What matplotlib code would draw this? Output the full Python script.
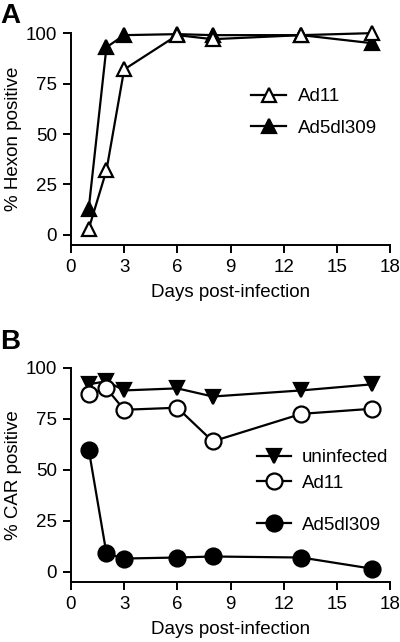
import matplotlib
matplotlib.use("Agg")
import matplotlib.pyplot as plt

plt.rcParams['font.family'] = ['Liberation Sans', 'DejaVu Sans']

days = [1, 2, 3, 6, 8, 13, 17]

# panel A: % Hexon positive
hexon_ad11 = [3, 32, 82, 99, 97, 99, 100]
hexon_ad5 = [13, 93, 99, 99.5, 99, 99, 95]

# panel B: % CAR positive
car_uninf = [92, 93.5, 89, 90, 86, 89, 92]
car_ad11 = [87, 90, 79.5, 80.5, 64, 77.5, 80]
car_ad5 = [60, 9, 6.5, 7, 7.5, 7, 1.5]

xticks = [0, 3, 6, 9, 12, 15, 18]
yticks = [0, 25, 50, 75, 100]

fig = plt.figure(figsize=(4, 6.42), dpi=100)
axA = fig.add_axes([0.1775, 0.6184, 0.7975, 0.330])
axB = fig.add_axes([0.1775, 0.0935, 0.7975, 0.3333])

lw = 1.6
mew = 1.6
fs = 13.5


def style(ax, ylabel):
    ax.set_xlim(0, 18)
    ax.set_ylim(-5, 100)
    ax.set_xticks(xticks)
    ax.set_yticks(yticks)
    for s in ['top', 'right']:
        ax.spines[s].set_visible(False)
    for s in ['left', 'bottom']:
        ax.spines[s].set_linewidth(1.4)
    ax.tick_params(direction='out', length=6, width=1.4, labelsize=fs, pad=4)
    ax.set_xlabel('Days post-infection', fontsize=fs, labelpad=6)
    ax.set_ylabel(ylabel, fontsize=fs, labelpad=3)


axA.plot(days, hexon_ad5, '-^', color='black', mfc='black', mec='black',
         ms=10, lw=lw, mew=mew, label='Ad5dl309', clip_on=False, zorder=3)
axA.plot(days, hexon_ad11, '-^', color='black', mfc='white', mec='black',
         ms=10, lw=lw, mew=mew, label='Ad11', clip_on=False, zorder=4)
style(axA, '% Hexon positive')
h, l = axA.get_legend_handles_labels()
axA.legend([h[1], h[0]], [l[1], l[0]], loc='upper left', bbox_to_anchor=(0.54, 0.775),
           frameon=False, fontsize=fs, handlelength=1.9, handletextpad=0.6,
           labelspacing=0.75, borderaxespad=0)

l_un, = axB.plot(days, car_uninf, '-v', color='black', mfc='black', mec='black',
                 ms=10, lw=lw, mew=mew, clip_on=False, zorder=3)
l_11, = axB.plot(days, car_ad11, '-o', color='black', mfc='white', mec='black',
                 ms=11.5, lw=lw, mew=mew, clip_on=False, zorder=4)
l_5, = axB.plot(days, car_ad5, '-o', color='black', mfc='black', mec='black',
                ms=11.5, lw=lw, mew=mew, clip_on=False, zorder=3)
style(axB, '% CAR positive')
leg1 = axB.legend([l_un, l_11], ['uninfected', 'Ad11'], loc='upper left',
                  bbox_to_anchor=(0.56, 0.655), frameon=False, fontsize=fs,
                  handlelength=1.8, handletextpad=0.6, labelspacing=0.45,
                  borderaxespad=0)
axB.add_artist(leg1)
axB.legend([l_5], ['Ad5dl309'], loc='upper left', bbox_to_anchor=(0.56, 0.34),
           frameon=False, fontsize=fs, handlelength=1.8, handletextpad=0.6,
           borderaxespad=0)

fig.text(0.0, 0.995, 'A', fontsize=20, fontweight='bold', va='top', ha='left')
fig.text(0.0, 0.487, 'B', fontsize=20, fontweight='bold', va='top', ha='left')

fig.savefig('out.png', dpi=100)
